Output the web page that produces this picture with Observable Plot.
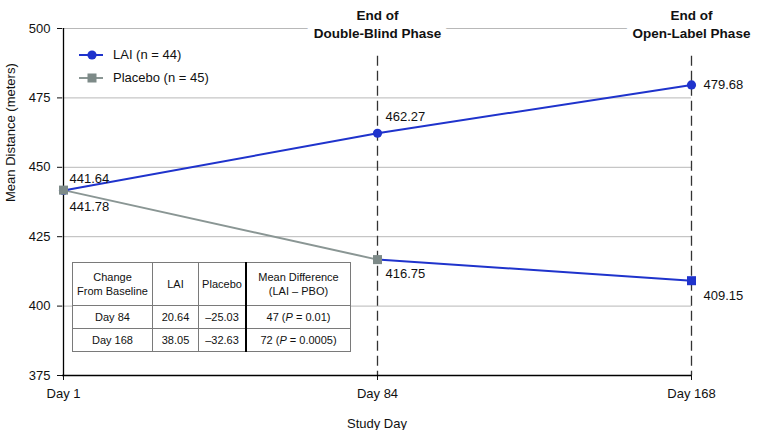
<!DOCTYPE html>
<html>
<head>
<meta charset="utf-8">
<script src="https://cdn.jsdelivr.net/npm/d3@7"></script>
<script src="https://cdn.jsdelivr.net/npm/@observablehq/plot@0.6"></script>
<style>
  html, body { margin: 0; padding: 0; background: #fff; }
  #wrap { position: relative; width: 758px; height: 430px; font-family: "Liberation Sans", Arial, sans-serif; }
  #legend { position: absolute; left: 78px; top: 43px; font-size: 13px; color: #111; }
  #legend .item { display: flex; align-items: center; height: 23px; }
  #legend svg { margin-right: 9px; }
  #tbl { position: absolute; left: 72px; top: 262px; border-collapse: collapse; background: #fff;
         font-size: 11px; color: #111; text-align: center; }
  #tbl td { border: 1px solid #7a7a7a; padding: 0; line-height: 14px; }
  #tbl td.thick { border-right: 2px solid #000; }
</style>
</head>
<body>
<div id="wrap"></div>
<script>
// ---- data ----
const days = ["Day 1", "Day 84", "Day 168"];
const laiValues = [441.64, 462.27, 479.68];
const placeboValues = [441.78, 416.75, 409.15];
const yTicks = [375, 400, 425, 450, 475, 500];
const seriesNames = ["LAI (n = 44)", "Placebo (n = 45)"];
const phaseLabels = ["End of\nDouble-Blind Phase", "End of\nOpen-Label Phase"];
const phaseDays = ["Day 84", "Day 168"];

const tableHeader = ["Change\nFrom Baseline", "LAI", "Placebo", "Mean Difference\n(LAI – PBO)"];
const tableDays = ["Day 84", "Day 168"];
const laiChange = ["20.64", "38.05"];
const placeboChange = ["–25.03", "–32.63"];
const meanDiff = ["47", "72"];
const pValues = ["0.01", "0.0005"];

const blue = "#1f33cc";
const grayLine = "#8a9694";
const graySq = "#7d8a88";

const lai = days.map((d, i) => ({day: d, value: laiValues[i]}));
const pbo = days.map((d, i) => ({day: d, value: placeboValues[i]}));

const txt = (data, dx, dy, anchor = "start") =>
  Plot.text(data, {x: "day", y: "value", text: d => d.value.toFixed(2), dx, dy,
    textAnchor: anchor, fill: "#111", fontSize: 13});

const chart = Plot.plot({
  width: 758, height: 430,
  marginLeft: 62, marginRight: 67, marginTop: 28, marginBottom: 55,
  style: {fontFamily: "'Liberation Sans', Arial, sans-serif", fontSize: "13px", background: "white", color: "#111"},
  x: {type: "point", domain: days, padding: 0, label: null},
  y: {domain: [375, 500], label: null},
  marks: [
    Plot.ruleY(yTicks.filter(t => t > 375), {stroke: "#b8b8b8", strokeWidth: 1}),
    Plot.ruleX(phaseDays, {y1: 490, y2: 375, stroke: "#333", strokeWidth: 1.3, strokeDasharray: "10,5"}),
    Plot.text(phaseLabels, {x: (d, i) => phaseDays[i], y: () => 500, text: d => d, dy: -5,
      fontWeight: "bold", fontSize: 13.5, lineHeight: 1.28, lineAnchor: "middle",
      fill: "#111", stroke: "white", strokeWidth: 14}),
    Plot.axisY({ticks: yTicks, tickSize: 5, tickPadding: 7, label: null, fontSize: 13}),
    Plot.axisX({tickSize: 5, tickPadding: 8, label: null, fontSize: 13}),
    Plot.ruleX([days[0]], {stroke: "#000", strokeWidth: 1.3}),
    Plot.ruleY([375], {stroke: "#000", strokeWidth: 1.3}),
    Plot.text(["Mean Distance (meters)"], {frameAnchor: "left", rotate: -90, dx: -52, fontSize: 13, fill: "#111"}),
    Plot.text(["Study Day"], {frameAnchor: "bottom", lineAnchor: "middle", dy: 48, fontSize: 13, fill: "#111"}),
    Plot.line(pbo.slice(0, 2), {x: "day", y: "value", stroke: grayLine, strokeWidth: 2}),
    Plot.line(pbo.slice(1), {x: "day", y: "value", stroke: blue, strokeWidth: 2}),
    Plot.line(lai, {x: "day", y: "value", stroke: blue, strokeWidth: 2}),
    Plot.dot(lai, {x: "day", y: "value", r: 4.6, fill: blue}),
    Plot.dot(pbo.slice(0, 2), {x: "day", y: "value", r: 5.1, symbol: "square", fill: graySq}),
    Plot.dot(pbo.slice(2), {x: "day", y: "value", r: 5.1, symbol: "square", fill: blue}),
    txt(lai.slice(0, 1), 6, -12),
    txt(lai.slice(1, 2), 8, -16),
    txt(lai.slice(2), 12, 0),
    txt(pbo.slice(0, 1), 6, 17),
    txt(pbo.slice(1, 2), 8, 14),
    txt(pbo.slice(2), 12, 15)
  ]
});

const wrap = document.getElementById("wrap");
wrap.appendChild(chart);

// legend
const legend = document.createElement("div");
legend.id = "legend";
const swatches = [
  `<svg width="26" height="12"><line x1="1" y1="6" x2="25" y2="6" stroke="${blue}" stroke-width="2"/><circle cx="14" cy="6" r="4.6" fill="${blue}"/></svg>`,
  `<svg width="26" height="12"><line x1="1" y1="6" x2="25" y2="6" stroke="${grayLine}" stroke-width="2"/><rect x="9.5" y="1.5" width="9" height="9" fill="${graySq}"/></svg>`
];
legend.innerHTML = seriesNames.map((n, i) => `<div class="item">${swatches[i]}<span>${n}</span></div>`).join("");
wrap.appendChild(legend);

// table
const tbl = document.createElement("table");
tbl.id = "tbl";
const widths = [79, 45, 46, 103];
const cell = (html, i, h) => `<td class="${i === 2 ? "thick" : ""}" style="width:${widths[i]}px;height:${h}px">${html}</td>`;
let rows = "<tr>" + tableHeader.map((h, i) => cell(h.replace("\n", "<br>"), i, 42)).join("") + "</tr>";
tableDays.forEach((d, r) => {
  const vals = [d, laiChange[r], placeboChange[r], `${meanDiff[r]} (<i>P</i> = ${pValues[r]})`];
  rows += "<tr>" + vals.map((v, i) => cell(v, i, 22)).join("") + "</tr>";
});
tbl.innerHTML = rows;
wrap.appendChild(tbl);
</script>
</body>
</html>
